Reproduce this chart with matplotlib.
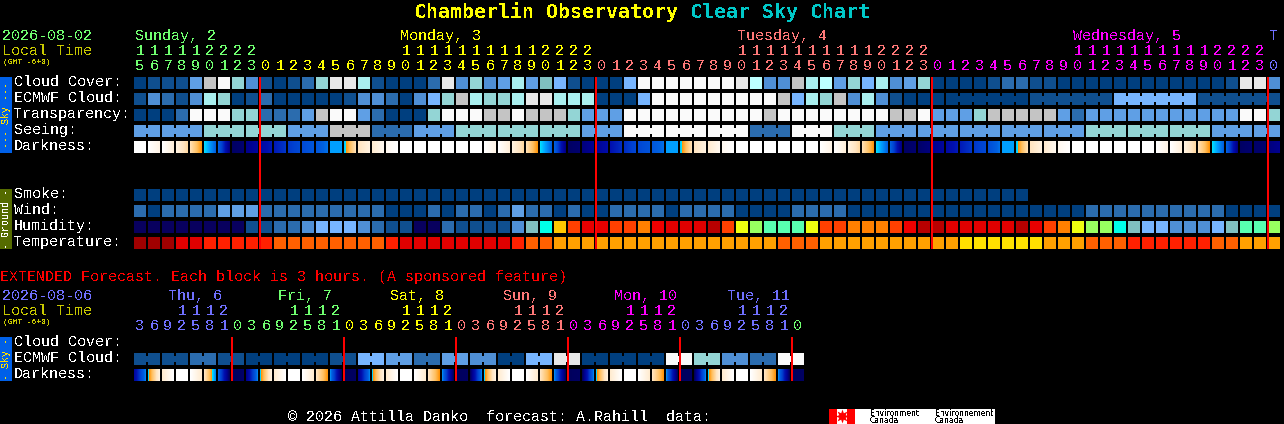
import numpy as np
import matplotlib
matplotlib.use('Agg')
import matplotlib.pyplot as plt
from matplotlib.colors import LinearSegmentedColormap

# one letter per block, colours are in shades below
cloud_cover = ("abbbejlgdbabcgkkhbaaa"
               "ckdgdehemfbaaaflllllllkiddjhieg"
               "fhdegaaaabccbbaaaaaaaaaaaabkkd")
ecmwf_cloud = ("bdcbdhgabcaaaaabddcad"
               "fgjhgghkkhhhaaaf" "lllllllll" "jfhgjd"
               "hdbaaaaaaaaabbbbbbffffffbbbbbb")
transparency = ("aaaclllggcccejlleca" "aa"
                "gllljjljjjgeee" "llllllllll" "j" "llllll"
                "lljjleeegjjjjjec" "eeeeeeeeeee" "llg")
seeing = ("eeeeeggggggeeejjjccceee"
          "ggggggggg" "eeelllllllllccclll" "ggg"
          "eeeeeeeeeeeeeee" "ggggggggg" "eeeee")
smoke = "a" * 64
wind = ("cacccceee" "ccccccccc" "aaa"
        "caccaceccacaacccc" "accccaaaa" "cccca"
        "aaaaaaaaaaaaaaaa" "cccccccccc" "aaaa")
humidity = ("nnnnnnnnbbccdfffdcbbn"
            "ncbbbbdmZYORROOPQSSSDOLGTTTLOOP"
            "PPOQDDSSSSSDROPLGGZmffdddfmTTG")
temperature = ("AAASSUUUUUVVVVVVVVUSS"
               "SSSSSSUVVWWWWWWWWWWWWWWWWVVVWWW"
               "WWWWWWWXXXXXXWWWVVVUUUUUUVVWWW")

ext_ecmwf = "bbbbccbbaaaaaabbffeecceeddaaffkkaaaaaallggddccll"

darkness_start = [10, 10, 10, 9, 7.8, 5.4, 4, 0.3, 0.9, 1.6, 2.2, 2.8, 3.3, 3.7, 4.8, 5.2, 8, 8.5, 9.5, 10, 10,
                  10, 10, 10, 10, 10, 10, 9, 7.8, 5.4, 4, 0.3, 0.7, 1.2, 2, 2.6, 3.2, 3.7, 4.8, 5.2, 8, 8.5, 9.5,
                  10, 10, 10, 10, 10, 10, 10, 10, 9, 7.8, 5.4, 4, 0.3, 0.4, 1, 1.6, 2.2, 2.8, 3.4, 4.8, 5.2, 8,
                  8.5, 9.5, 10, 10, 10, 10, 10, 10, 10, 10, 9, 7.8, 5.4, 4, 0.3, 0.4, 0.7]
darkness_end = [10, 9.2, 8.8, 7.5, 5.6, 4, 0.8, 0.5, 1.4, 2.2, 2.8, 3.3, 3.7, 4.2, 4.8, 7.8, 9, 9.5, 10, 10, 10,
                10, 10, 10, 10, 9.2, 8.8, 7.5, 5.6, 4, 0.8, 0.5, 1.1, 1.8, 2.6, 3.2, 3.6, 4.2, 4.8, 7.8, 9, 9.5, 10,
                10, 10, 10, 10, 10, 10, 9.2, 8.8, 7.5, 5.6, 4, 0.8, 0.5, 0.7, 1.4, 2.2, 2.8, 3.3, 4.2, 4.8, 7.8, 9,
                9.5, 10, 10, 10, 10, 10, 10, 10, 9.2, 8.8, 7.5, 5.6, 4, 0.8, 0.5, 0.5, 1]
ext_dark_start = [1.5, 5.3, 8.5, 10, 10, 8, 4, 0.2, 1, 5.3, 8.5, 10, 10, 8, 4.5, 0.2,
                  1, 5.3, 8.5, 10, 10, 8, 4.5, 0.2, 0.3, 5.3, 8.5, 10, 10, 8, 4.5, 0.2,
                  0.2, 5.3, 8.5, 10, 10, 8, 4.5, 0.2, 0.2, 5.3, 8.5, 10, 10, 8, 4.5, 0.2]
ext_dark_end = [4.4, 9, 10, 10, 8.5, 4.5, 0.2, 0.4, 4.4, 9, 10, 10, 8.5, 5.6, 0.2, 0.3,
                4.4, 9, 10, 10, 8.5, 5.6, 0.2, 0.3, 4.4, 9, 10, 10, 8.5, 5.6, 0.2, 0.3,
                4.4, 9, 10, 10, 8.5, 5.6, 0.2, 0.3, 4.4, 9, 10, 10, 8.5, 5.6, 0.2, 0.3]

hours = list(range(15, 24)) + list(range(24)) * 3 + [0]
ext_hours = [3, 6, 9, 12, 15, 18, 21] + [0, 3, 6, 9, 12, 15, 18, 21] * 5 + [0]
day_lengths = [9, 24, 24, 24, 1]
ext_day_lengths = [7, 8, 8, 8, 8, 8, 1]
day_names = ['Sunday, 2', 'Monday, 3', 'Tuesday, 4', 'Wednesday, 5', 'T']
day_label_x = [135, 400, 737, 1073, 1269]
ext_day_names = ['Thu, 6', 'Fri, 7', 'Sat, 8', 'Sun, 9', 'Mon, 10', 'Tue, 11']
ext_label_x = [168, 278, 390, 503, 614, 727]

shades = {'a': '#003f7f', 'b': '#0f4f8f', 'c': '#2b6cae', 'd': '#4f8fd5', 'e': '#5f9fe5', 'f': '#77b5ff',
          'g': '#93d5d5', 'h': '#a9efef', 'i': '#bdffff', 'j': '#c4c4c4', 'k': '#e8e8e8', 'l': '#fafafa',
          'm': '#80c0c0', 'n': '#08005e',
          'Z': '#00ffe8', 'Y': '#ffc800', 'O': '#ff4000', 'R': '#e80000', 'P': '#ff8000', 'Q': '#f00000',
          'S': '#e00000', 'D': '#b80000', 'L': '#eeff10', 'G': '#98ff60', 'T': '#58ffb0',
          'A': '#a00000', 'U': '#ff2000', 'V': '#ff6000', 'W': '#ffa000', 'X': '#ffe000'}
GREEN, YELLOW, SALMON, MAGENTA, PERI = '#70ff70', '#ffff00', '#ff7878', '#ff00ff', '#7070ff'
day_colors = [GREEN, YELLOW, SALMON, MAGENTA, PERI]
ext_day_colors = [PERI, GREEN, YELLOW, SALMON, MAGENTA, PERI, GREEN]

dark_cmap = LinearSegmentedColormap.from_list('dark', [
    (0, '#000050'), (0.1, '#000090'), (0.2, '#0010b0'), (0.3, '#0040d0'), (0.4, '#0060e0'), (0.48, '#00a0ff'),
    (0.55, '#00e8ff'), (0.55, '#ff9000'), (0.65, '#ffc060'), (0.8, '#ffe4c0'), (0.9, '#fff2e0'), (1, '#ffffff')], N=512)

LEFT, STEP, CELL = 134, 14, 12

plt.rcParams['font.family'] = 'Liberation Mono'
plt.rcParams['text.antialiased'] = False
fig = plt.figure(figsize=(12.84, 4.24), dpi=100, facecolor='black')
ax = fig.add_axes([0, 0, 1, 1])
ax.set_facecolor('black')
ax.axis('off')


def txt(x, y, s, color='white', size=10.8, **kw):
    kw.setdefault('ha', 'left')
    kw.setdefault('va', 'center')
    ax.text(x, y, s, color=color, fontsize=size, **kw)


def block(x, y, w, h, color, z=1):
    ax.bar(x, h, bottom=y, width=w, align='edge', color=color, linewidth=0, snap=False, zorder=z)


def draw_row(y, levels, same_block=None):
    xs = LEFT + STEP * np.arange(len(levels))
    cols = [shades[c] for c in levels]
    block(xs, y, CELL, CELL, cols)
    if same_block:
        for i in range(len(levels) - 1):
            if same_block(i) == same_block(i + 1):
                block(xs[i] + CELL, y + 3, STEP - CELL, 6, cols[i])


def draw_darkness(y, starts, ends):
    for i, (a, b) in enumerate(zip(starts, ends)):
        x = LEFT + STEP * i
        ax.imshow(np.linspace(a, b, CELL)[None, :], extent=(x, x + CELL, y + CELL, y), cmap=dark_cmap,
                  vmin=0, vmax=10, aspect='auto', interpolation='nearest', zorder=2)


def draw_hours(y_tens, y_ones, values, lengths, colors):
    owner = np.repeat(np.arange(len(lengths)), lengths)
    for i, h in enumerate(values):
        x = LEFT + STEP * i + CELL / 2
        txt(x, y_ones, str(h % 10), colors[owner[i]], ha='center')
        if h >= 10:
            txt(x, y_tens, str(h // 10), colors[owner[i]], ha='center')


def side_bar(y0, y1, color, label, label_color):
    block(0, y0, 12, y1 - y0, color)
    txt(6, (y0 + y1) / 2, label, label_color, size=7.2, rotation=90, ha='center', va='center')


# title
ax.text(414, 12, 'Chamberlin Observatory', color='#ffff00', fontsize=14.35, family='DejaVu Sans Mono',
        fontweight='bold', va='center')
ax.text(690, 12, 'Clear Sky Chart', color='#00c8c8', fontsize=14.35, family='DejaVu Sans Mono',
        fontweight='bold', va='center')

# main chart header
txt(2, 36, '2026-08-02', GREEN)
txt(2, 51, 'Local Time', '#c8c800')
txt(3, 62, '(GMT -6+0)', '#c8c800', size=5.76)
for name, nx, col in zip(day_names, day_label_x, day_colors):
    txt(nx, 36, name, col)
draw_hours(51, 66, hours, day_lengths, day_colors)

sky_labels = ['Cloud Cover:', 'ECMWF Cloud:', 'Transparency:', 'Seeing:', 'Darkness:']
for lab, y in zip(sky_labels, [82, 98, 114, 130, 146]):
    txt(14, y, lab)
ground_labels = ['Smoke:', 'Wind:', 'Humidity:', 'Temperature:']
for lab, y in zip(ground_labels, [194, 210, 226, 242]):
    txt(14, y, lab)

draw_row(77, cloud_cover)
draw_row(93, ecmwf_cloud, lambda i: (i - 58) // 6 if i >= 58 else -i - 1)
draw_row(109, transparency)
draw_row(125, seeing, lambda i: (i - 2) // 3)
draw_darkness(141, darkness_start, darkness_end)
draw_row(189, smoke)
draw_row(205, wind)
draw_row(221, humidity)
draw_row(237, temperature)

side_bar(77, 153, '#0060e8', '--- Sky ---', '#ffe000')
side_bar(189, 249, '#556b00', '- Ground -', 'white')

for col in [9, 33, 57, 81]:
    block(LEFT + STEP * col - 1, 77, 2, 172, '#ff0000', 3)

# extended forecast
txt(0, 277, 'EXTENDED Forecast. Each block is 3 hours. (A sponsored feature)', '#ff0000')
txt(2, 296, '2026-08-06', PERI)
txt(2, 311, 'Local Time', '#c8c800')
txt(3, 322, '(GMT -6+0)', '#c8c800', size=5.76)
for name, nx, col in zip(ext_day_names, ext_label_x, ext_day_colors):
    txt(nx, 296, name, col)
draw_hours(311, 326, ext_hours, ext_day_lengths, ext_day_colors)

for lab, y in zip(['Cloud Cover:', 'ECMWF Cloud:', 'Darkness:'], [342, 358, 374]):
    txt(14, y, lab)
draw_row(353, ext_ecmwf, lambda i: i // 2)
draw_darkness(369, ext_dark_start, ext_dark_end)
side_bar(337, 381, '#0060e8', '- Sky -', '#ffe000')
for col in [7, 15, 23, 31, 39, 47]:
    block(LEFT + STEP * col - 1, 337, 2, 44, '#ff0000', 3)

# footer and logo
txt(288, 417, '\u00a9 2026 Attilla Danko  forecast: A.Rahill  data:')
block(829, 409, 166, 15, 'white')
block([829, 847], 409, 8, 15, '#ff0000')
ax.plot([842], [416], marker=(8, 1, 0), color='#ff0000', markersize=10, markeredgewidth=0)
for tx, word in [(870, 'Environment'), (935, 'Environnement')]:
    ax.text(tx, 413, word, color='black', fontsize=5.5, family='DejaVu Sans', va='center')
    ax.text(tx, 420.5, 'Canada', color='black', fontsize=5.5, family='DejaVu Sans', va='center')

ax.set_xlim(0, 1284)
ax.set_ylim(424, 0)
fig.savefig('out.png', dpi=100, facecolor='black')
